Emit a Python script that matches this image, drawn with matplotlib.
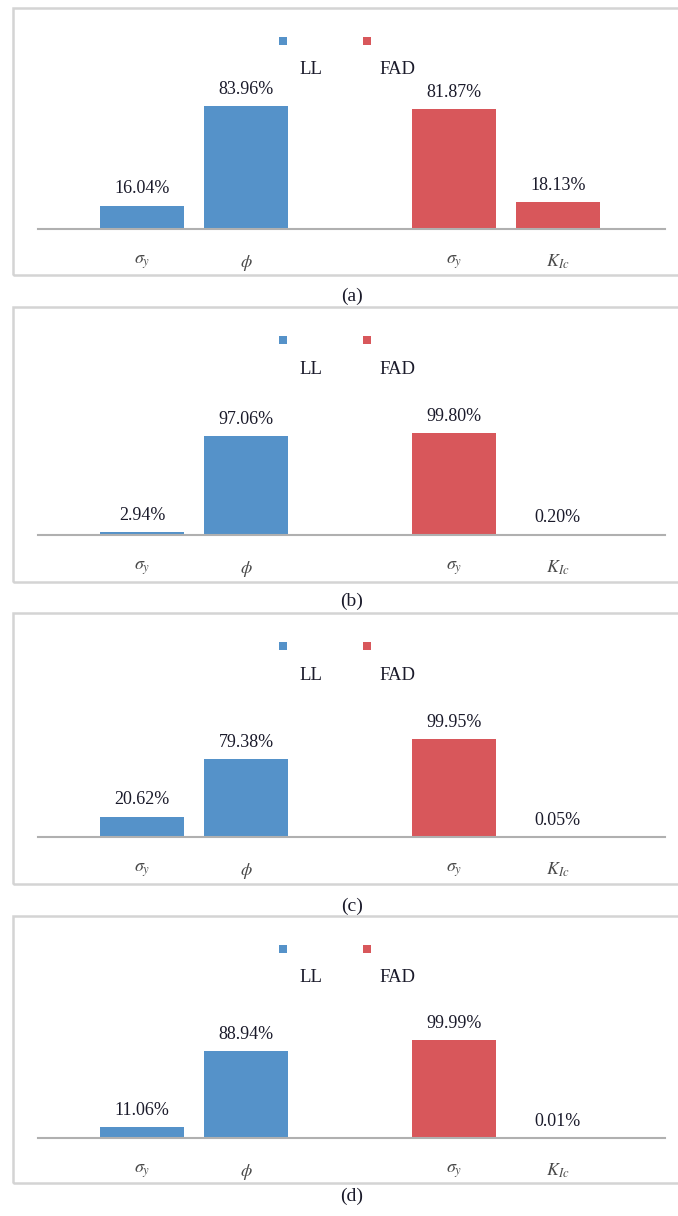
import matplotlib.pyplot as plt
from matplotlib.patches import Rectangle

W, H = 678, 1216

# sensitivity shares (%) for each case
panel_tags = ['(a)', '(b)', '(c)', '(d)']
ll_sigma = [16.04, 2.94, 20.62, 11.06]
ll_phi = [83.96, 97.06, 79.38, 88.94]
fad_sigma = [81.87, 99.80, 99.95, 99.99]
fad_k = [18.13, 0.20, 0.05, 0.01]
tick_names = [r'$\sigma_y$', r'$\phi$', r'$\sigma_y$', r'$K_{Ic}$']
series_names = ['LL', 'FAD']

blue = '#5592c9'
red = '#d8575b'
serif = ['Liberation Serif', 'DejaVu Serif']
plt.rcParams['mathtext.fontset'] = 'stix'

# layout in pixels: box top, box bottom, bar baseline, px per percent, caption y
boxes = [(8, 275, 229, 1.465, 296),
         (307, 582, 535, 1.02, 601),
         (613, 884, 837, 0.98, 906),
         (916, 1183, 1138, 0.98, 1196)]


def fx(px):
    return px / W


def fy(py):
    return 1 - py / H


fig = plt.figure(figsize=(W / 100, H / 100), dpi=100)

for i, (top, bot, base, scale, cap_y) in enumerate(boxes):
    # outer frame
    fig.patches.append(Rectangle((fx(13), fy(bot)), fx(700) - fx(13), fy(top) - fy(bot),
                                 transform=fig.transFigure, fill=False,
                                 edgecolor='#d4d4d4', lw=1.8))

    ax_h = 100 * scale
    ax = fig.add_axes([fx(38), fy(base), fx(665) - fx(38), ax_h / H])
    ax.set_xlim(-1, 5.03)
    ax.set_ylim(0, 100)
    ax.patch.set_alpha(0)
    for s in ['top', 'right', 'left']:
        ax.spines[s].set_visible(False)
    ax.spines['bottom'].set_color('#b0b0b0')
    ax.spines['bottom'].set_linewidth(1.5)

    xs = [0, 1, 3, 4]
    vals = [ll_sigma[i], ll_phi[i], fad_sigma[i], fad_k[i]]
    cols = [blue, blue, red, red]
    bars = ax.bar(xs, vals, width=0.81, color=cols, zorder=2)
    for b, v in zip(bars, vals):
        ax.annotate('%.2f%%' % v, (b.get_x() + b.get_width() / 2, v),
                    xytext=(0, 6), textcoords='offset points',
                    ha='center', va='bottom', fontsize=13, family=serif,
                    color='#1a1a2a')

    ax.set_xticks(xs)
    ax.set_xticklabels(tick_names, fontsize=13, color='#4a4a4a')
    ax.tick_params(axis='x', length=0, pad=17)
    ax.set_yticks([])

    # legend: small squares with names set below-right
    leg_y = top + 33
    for sx, tx, c, name in [(283, 311, blue, series_names[0]),
                            (367, 397, red, series_names[1])]:
        fig.patches.append(Rectangle((fx(sx - 4), fy(leg_y + 4)), 8 / W, 8 / H,
                                     transform=fig.transFigure, color=c, lw=0))
        fig.text(fx(tx), fy(leg_y + 29), name, ha='center', va='center',
                 fontsize=13.5, family=serif, color='#1a1a2a')

    fig.text(fx(352), fy(cap_y), panel_tags[i], ha='center', va='center',
             fontsize=14, family=serif, color='#1a1a2a')

fig.savefig('out.png', dpi=100)
